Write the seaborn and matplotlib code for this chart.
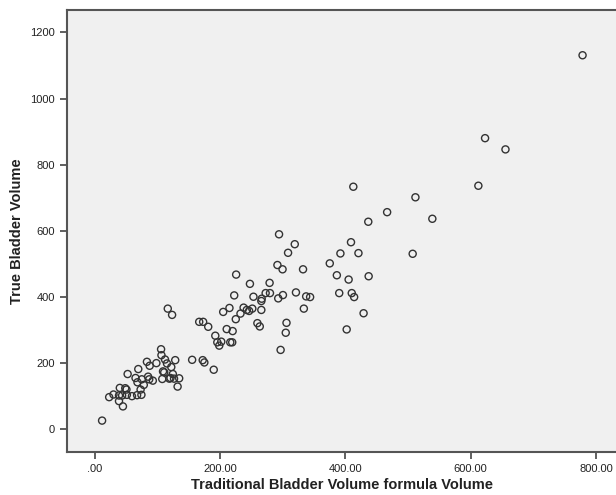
import seaborn as sns
import matplotlib.pyplot as plt
import pandas as pd
from matplotlib.ticker import FuncFormatter

# values
formula_volume = [
    11.3, 22.6, 29.5, 39.6, 38.3, 38.3, 44.6, 43.3, 48.3, 50.2,
    50.9, 52.1, 59.0, 64.7, 67.2, 67.8, 69.1, 72.8, 74.1, 74.7,
    77.9, 82.9, 84.8, 87.3, 86.6, 92.3, 98.0, 105.5, 107.4, 106.1,
    108.6, 111.8, 114.9, 116.2, 110.5, 118.7, 120.6, 121.8, 123.1, 124.3,
    126.2, 128.1, 131.9, 134.4, 155.1, 166.4, 172.0, 174.6, 172.7, 180.8,
    189.6, 192.1, 195.3, 198.4, 201.6, 204.7, 210.3, 214.7, 216.0, 219.8,
    219.1, 222.3, 224.8, 225.4, 232.3, 237.3, 242.4, 246.1, 247.4, 251.2,
    253.0, 259.3, 263.1, 265.6, 265.6, 266.2, 272.5, 278.8, 279.4, 291.3,
    292.6, 293.9, 296.4, 299.5, 300.1, 304.6, 305.8, 308.3, 319.0, 320.9,
    332.2, 333.5, 337.2, 343.5, 374.9, 386.2, 390.0, 391.9, 401.9, 405.0,
    408.8, 410.0, 412.5, 413.8, 420.7, 428.9, 436.4, 437.0, 466.5, 507.3,
    511.7, 538.7, 612.2, 622.9, 655.5, 778.6,
]
true_volume = [
    25, 96, 104, 124, 101, 84, 68, 101, 123, 119,
    103, 166, 99, 154, 102, 141, 181, 119, 103, 150,
    133, 203, 158, 191, 150, 146, 199, 241, 151, 223,
    174, 210, 198, 364, 171, 152, 154, 187, 345, 166,
    152, 208, 128, 153, 209, 324, 208, 201, 324, 309,
    179, 282, 262, 252, 264, 354, 302, 366, 262, 296,
    262, 404, 332, 467, 349, 367, 360, 357, 439, 364,
    400, 320, 310, 387, 360, 394, 411, 442, 411, 496,
    395, 589, 239, 483, 405, 291, 321, 533, 559, 413,
    483, 364, 401, 399, 501, 465, 411, 531, 301, 452,
    565, 411, 733, 399, 532, 350, 627, 462, 656, 530,
    701, 636, 736, 880, 846, 1131,
]
x_ticks = [0, 200, 400, 600, 800]
y_ticks = [0, 200, 400, 600, 800, 1000, 1200]

df = pd.DataFrame({"formula": formula_volume, "true": true_volume})

sns.set_style("ticks")
plt.rcParams["font.family"] = ["Liberation Sans", "DejaVu Sans"]

fig = plt.figure(figsize=(6.16, 4.95), dpi=100)
ax = fig.add_axes([0.1088, 0.0869, 0.8912, 0.8929])
ax.set_facecolor("#f0f0f0")

sns.scatterplot(data=df, x="formula", y="true", ax=ax, s=26,
                facecolor="none", edgecolor="#333333", linewidth=1.0)

ax.set_xlim(-44.7, 832)
ax.set_ylim(-70, 1268)
ax.set_xticks(x_ticks)
ax.set_yticks(y_ticks)
ax.xaxis.set_major_formatter(FuncFormatter(lambda v, p: ".00" if v == 0 else f"{v:.2f}"))
ax.tick_params(axis="both", labelsize=8, length=5, width=1.2, color="#444444",
               labelcolor="#222222", direction="out")

for side in ["left", "bottom", "top"]:
    ax.spines[side].set_color("#555555")
    ax.spines[side].set_linewidth(1.5)
    ax.spines[side].set_visible(True)
ax.spines["right"].set_visible(False)

ax.set_xlabel("Traditional Bladder Volume formula Volume", fontsize=10.5,
              fontweight="bold", color="#222222", labelpad=3)
ax.set_ylabel("True Bladder Volume", fontsize=10.5, fontweight="bold",
              color="#222222", labelpad=5)

fig.savefig("out.png", dpi=100, facecolor="white")
